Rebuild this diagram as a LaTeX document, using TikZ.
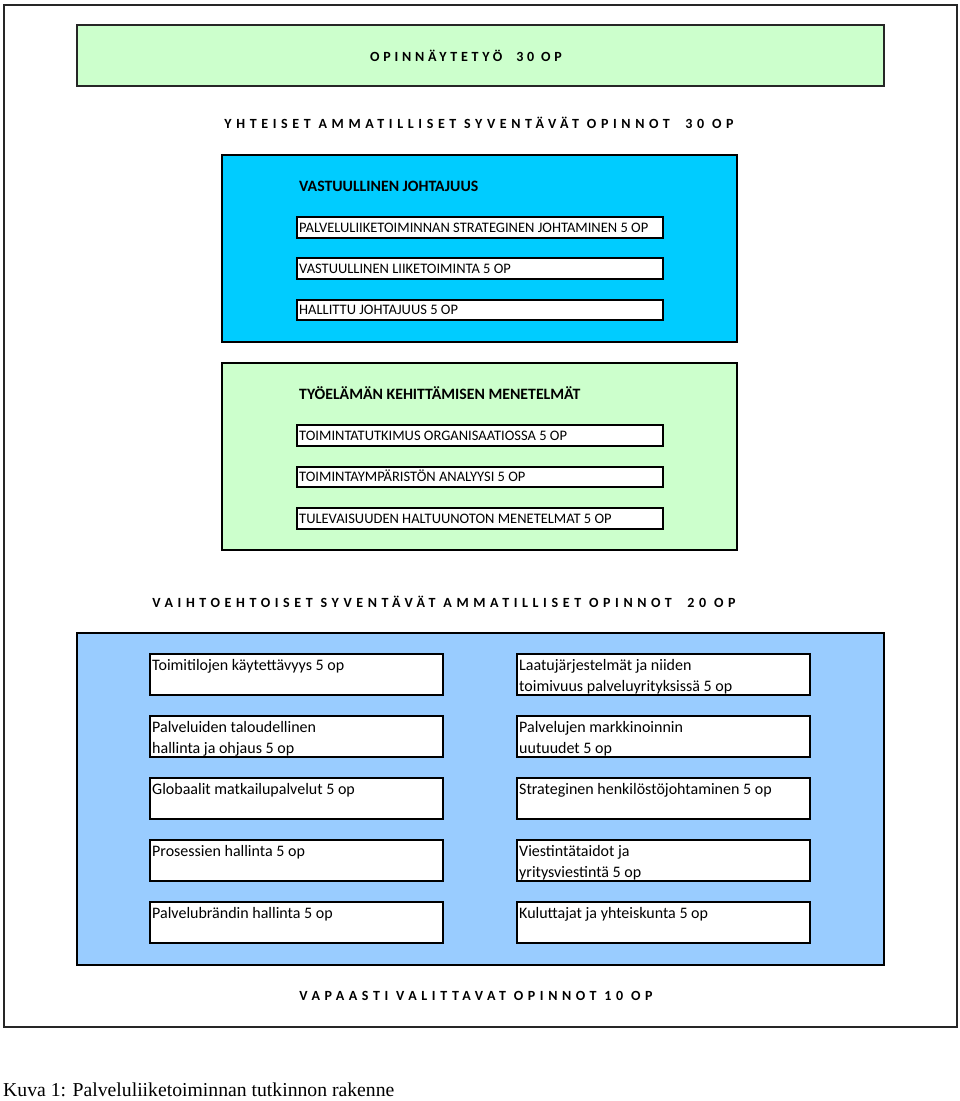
\documentclass[tikz,border=0pt]{standalone}
\usepackage{fontspec}
\setmainfont{Carlito}
\newfontfamily\capfont{Liberation Serif}
\definecolor{pgreen}{HTML}{CCFFCC}
\definecolor{pcyan}{HTML}{00CCFF}
\definecolor{pblue}{HTML}{99CCFF}
\begin{document}
\begin{tikzpicture}[x=1pt,y=-1pt,
  frame/.style={draw=black!85,line width=1.8pt},
  panel/.style={draw=black,line width=2.6pt},
  thinpanel/.style={draw=black!85,line width=1.4pt},
  course/.style={draw=black,line width=1.3pt,fill=white},
  ctext/.style={anchor=base west,inner sep=0pt,font=\fontsize{14.5}{16}\selectfont},
  ltext/.style={anchor=north west,inner sep=0pt,align=left,font=\fontsize{16}{21}\selectfont},
  head/.style={inner sep=0pt,font=\fontsize{14}{16}\selectfont\bfseries\addfontfeatures{LetterSpace=#1}},
  head/.default=33,
  sub/.style={anchor=base west,inner sep=0pt,font=\fontsize{15.8}{18}\selectfont\bfseries}]
\useasboundingbox (0,0) rectangle (960,1101);
\fill[white] (0,0) rectangle (960,1101);
% outer frame
\draw[frame] (4,5) rectangle (957,1027);
% top
\draw[thinpanel,fill=pgreen] (77,25) rectangle (884,86);
\node[head=27] (t1) at (466,56) {OPINNÄYTETYÖ\ \ 30 OP};
\node[head] (t2) at (479,123) {YHTEISET AMMATILLISET SYVENTÄVÄT OPINNOT\ \ 30 OP};
% blue panel
\draw[panel,fill=pcyan] (222,155) rectangle (737,342);
\node[sub] (s1) at (299,191.5) {VASTUULLINEN JOHTAJUUS};
\draw[course] (297,217) rectangle (663,238);
\node[ctext] (a1) at (299,232) {PALVELULIIKETOIMINNAN STRATEGINEN JOHTAMINEN 5 OP};
\draw[course] (297,258) rectangle (663,279);
\node[ctext] (a2) at (299,273) {VASTUULLINEN LIIKETOIMINTA 5 OP};
\draw[course] (297,300) rectangle (663,320);
\node[ctext] (a3) at (299,314.5) {HALLITTU JOHTAJUUS 5 OP};
% green panel
\draw[panel,fill=pgreen] (222,363) rectangle (737,550);
\node[sub] (s2) at (299,399.5) {TYÖELÄMÄN KEHITTÄMISEN MENETELMÄT};
\draw[course] (297,425) rectangle (663,446);
\node[ctext] (b1) at (299,440) {TOIMINTATUTKIMUS ORGANISAATIOSSA 5 OP};
\draw[course] (297,467) rectangle (663,487);
\node[ctext] (b2) at (299,481.5) {TOIMINTAYMPÄRISTÖN ANALYYSI 5 OP};
\draw[course] (297,508) rectangle (663,529);
\node[ctext] (b3) at (299,523) {TULEVAISUUDEN HALTUUNOTON MENETELMAT 5 OP};
% optional
\node[head] (t3) at (444,602) {VAIHTOEHTOISET SYVENTÄVÄT AMMATILLISET OPINNOT\ \ 20 OP};
\draw[panel,fill=pblue] (77,633) rectangle (884,965);
\foreach \y/\l/\r in {654/{Toimitilojen käytettävyys 5 op}/{Laatujärjestelmät ja niiden\\toimivuus palveluyrityksissä 5 op},
  716/{Palveluiden taloudellinen\\hallinta ja ohjaus 5 op}/{Palvelujen markkinoinnin\\uutuudet 5 op},
  778/{Globaalit matkailupalvelut 5 op}/{Strateginen henkilöstöjohtaminen 5 op},
  840/{Prosessien hallinta 5 op}/{Viestintätaidot ja\\yritysviestintä 5 op},
  902/{Palvelubrändin hallinta 5 op}/{Kuluttajat ja yhteiskunta 5 op}}{
  \draw[course] (150,\y) rectangle (443,\y+41);
  \node[ltext] (l\y) at (152,\y) {\rule{0pt}{16pt}\l};
  \draw[course] (517,\y) rectangle (810,\y+41);
  \node[ltext] (r\y) at (519,\y) {\rule{0pt}{16pt}\r};
}
\node[head] (t4) at (476,996) {VAPAASTI VALITTAVAT OPINNOT 10 OP};
\node[anchor=west,inner sep=0pt,font=\capfont\fontsize{19.7}{22}\selectfont] (cap) at (3,1090) {Kuva 1: Palveluliiketoiminnan tutkinnon rakenne};
\end{tikzpicture}
\end{document}
